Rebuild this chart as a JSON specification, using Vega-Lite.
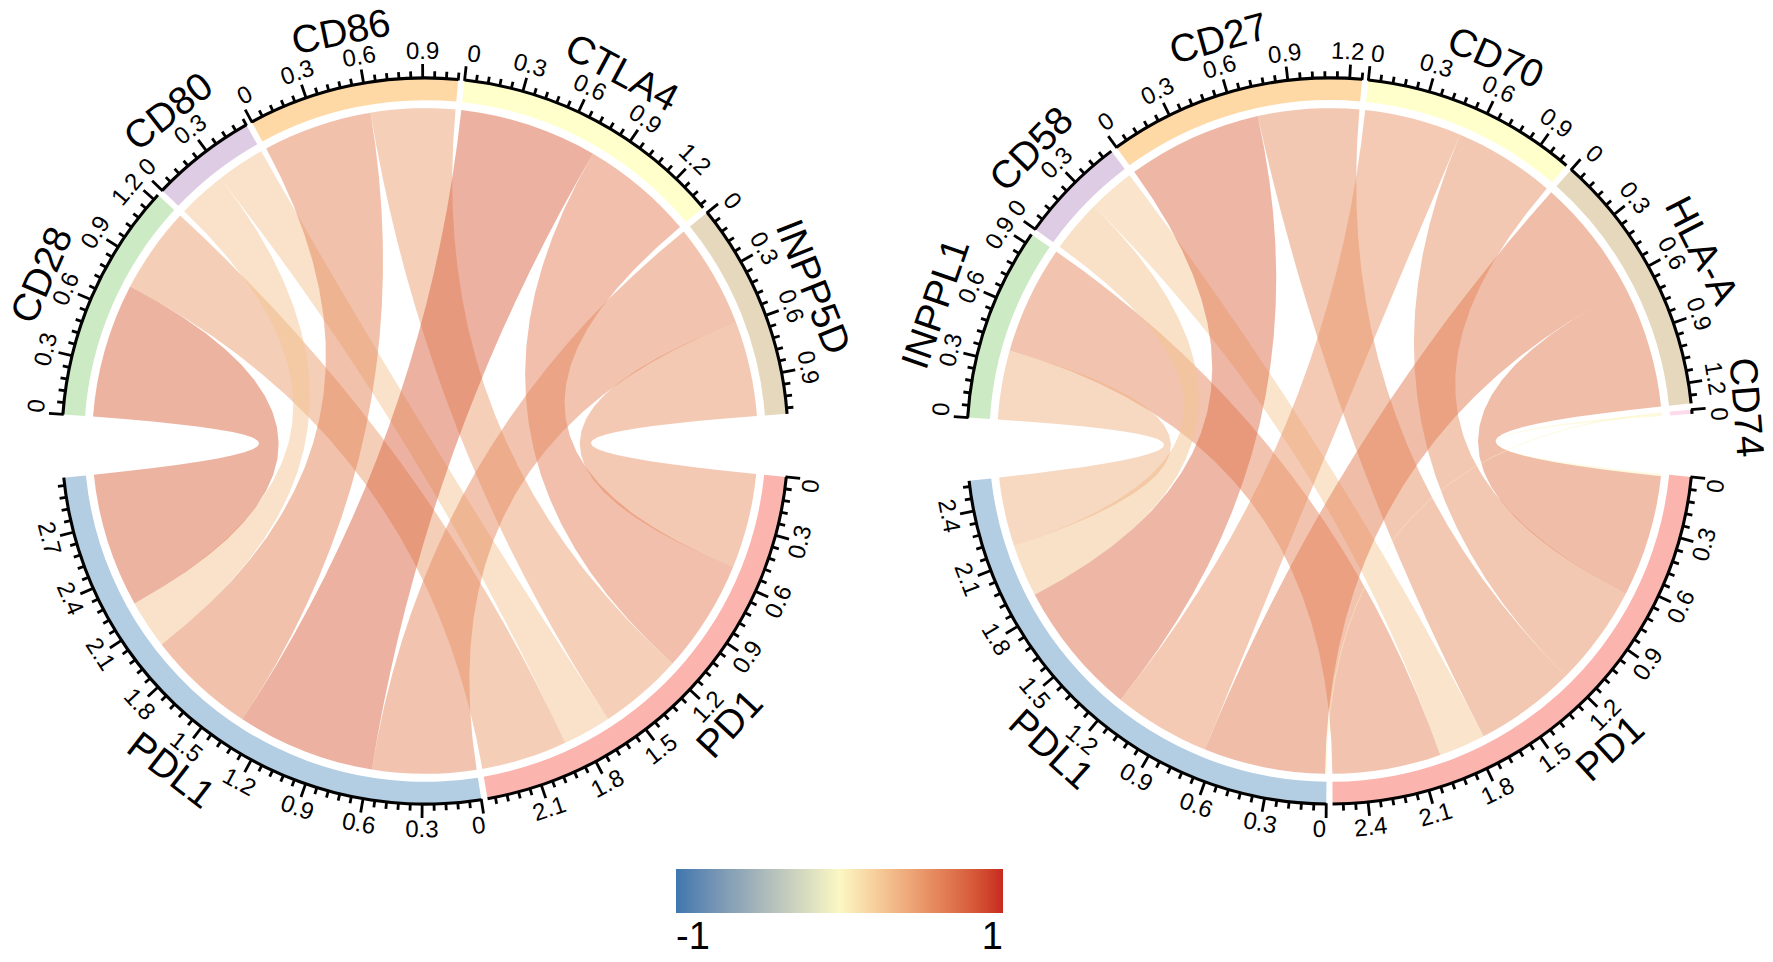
{
"$schema": "https://vega.github.io/schema/vega-lite/v6.json",
"padding": {"left": 0, "top": 0, "right": 18, "bottom": 0},
"background": "white",
"spacing": 55,
"bounds": "flush",
"config": {"view": {"stroke": null}, "font": "Liberation Sans"},
"datasets": {"links": [
{"c":"L","a":"PD1","ia":0,"b":"INPP5D","ib":6,"v":0.53},
{"c":"L","a":"PD1","ia":0,"b":"CTLA4","ib":5,"v":0.63},
{"c":"L","a":"PD1","ia":0,"b":"CD86","ib":4,"v":0.47},
{"c":"L","a":"PD1","ia":0,"b":"CD80","ib":3,"v":0.27},
{"c":"L","a":"PD1","ia":0,"b":"CD28","ib":2,"v":0.48},
{"c":"L","a":"PDL1","ia":1,"b":"INPP5D","ib":6,"v":0.58},
{"c":"L","a":"PDL1","ia":1,"b":"CTLA4","ib":5,"v":0.77},
{"c":"L","a":"PDL1","ia":1,"b":"CD86","ib":4,"v":0.61},
{"c":"L","a":"PDL1","ia":1,"b":"CD80","ib":3,"v":0.27},
{"c":"L","a":"PDL1","ia":1,"b":"CD28","ib":2,"v":0.75},
{"c":"R","a":"PD1","ia":0,"b":"CD74","ib":7,"v":0.012},
{"c":"R","a":"PD1","ia":0,"b":"HLA-A","ib":6,"v":0.65},
{"c":"R","a":"PD1","ia":0,"b":"CD70","ib":5,"v":0.54},
{"c":"R","a":"PD1","ia":0,"b":"CD27","ib":4,"v":0.54},
{"c":"R","a":"PD1","ia":0,"b":"CD58","ib":3,"v":0.25},
{"c":"R","a":"PD1","ia":0,"b":"INPPL1","ib":2,"v":0.58},
{"c":"R","a":"PDL1","ia":1,"b":"CD74","ib":7,"v":0.008},
{"c":"R","a":"PDL1","ia":1,"b":"HLA-A","ib":6,"v":0.65},
{"c":"R","a":"PDL1","ia":1,"b":"CD70","ib":5,"v":0.52},
{"c":"R","a":"PDL1","ia":1,"b":"CD27","ib":4,"v":0.72},
{"c":"R","a":"PDL1","ia":1,"b":"CD58","ib":3,"v":0.28},
{"c":"R","a":"PDL1","ia":1,"b":"INPPL1","ib":2,"v":0.37}
]},
"hconcat": [
{
"width": 850, "height": 882,
"layer": [
{
"data": {"name": "links"},
"transform": [
{"filter": "datum.c == 'L'"},
{"joinaggregate": [{"op":"sum","field":"v","as":"T"},{"op":"max","field":"ib","as":"maxb"}], "groupby": ["c"]},
{"joinaggregate": [{"op":"sum","field":"v","as":"lenA"}], "groupby": ["a"]},
{"joinaggregate": [{"op":"sum","field":"v","as":"lenB"}], "groupby": ["b"]},
{"window": [{"op":"sum","field":"v","as":"cumA"}], "groupby": ["c"], "sort": [{"field":"ia","order":"ascending"}], "frame": [null,0], "ignorePeers": false},
{"window": [{"op":"sum","field":"v","as":"cumB"}], "groupby": ["c"], "sort": [{"field":"ib","order":"ascending"}], "frame": [null,0], "ignorePeers": false},
{"window": [{"op":"sum","field":"v","as":"inA"}], "groupby": ["a"], "sort": [{"field":"ib","order":"descending"}], "frame": [null,0]},
{"window": [{"op":"sum","field":"v","as":"inB"}], "groupby": ["b"], "sort": [{"field":"ia","order":"descending"}], "frame": [null,0]},
{"calculate": "(341 - datum.maxb) / (2 * datum.T)", "as": "dpu"},
{"calculate": "95.7 + (datum.cumA - datum.lenA + datum.inA - datum.v) * datum.dpu + datum.ia", "as": "a1"},
{"calculate": "datum.a1 + datum.v * datum.dpu", "as": "a2"},
{"calculate": "95.7 + (datum.T + datum.cumB - datum.lenB + datum.inB - datum.v) * datum.dpu + 9 + datum.ib", "as": "b1"},
{"calculate": "datum.b1 + datum.v * datum.dpu", "as": "b2"},
{"calculate": "0", "as": "j"},
{"calculate": "0", "as": "z"},
{"impute": "z", "key": "j", "keyvals": [0,1,2,3,4,5,6,7,8,9,10,11,12,13,14,15,16,17,18,19,20,21,22,23,24,25,26,27,28,29,30,31,32,33,34,35,36,37,38,39,40,41,42,43,44,45,46,47,48,49,50,51,52,53,54,55], "groupby": ["c","a","b","v","a1","a2","b1","b2"], "value": 0},
{"calculate": "datum.j <= 8 ? 0.917 * sin((datum.a1 + (datum.a2 - datum.a1) * datum.j / 8) * PI / 180) : datum.j <= 27 ? 0.917 * (pow(1 - (datum.j - 8) / 20, 2) * sin(datum.a2 * PI / 180) + pow((datum.j - 8) / 20, 2) * sin(datum.b1 * PI / 180)) : datum.j <= 36 ? 0.917 * sin((datum.b1 + (datum.b2 - datum.b1) * (datum.j - 28) / 8) * PI / 180) : 0.917 * (pow(1 - (datum.j - 36) / 20, 2) * sin(datum.b2 * PI / 180) + pow((datum.j - 36) / 20, 2) * sin(datum.a1 * PI / 180))", "as": "x"},
{"calculate": "datum.j <= 8 ? 0.917 * cos((datum.a1 + (datum.a2 - datum.a1) * datum.j / 8) * PI / 180) : datum.j <= 27 ? 0.917 * (pow(1 - (datum.j - 8) / 20, 2) * cos(datum.a2 * PI / 180) + pow((datum.j - 8) / 20, 2) * cos(datum.b1 * PI / 180)) : datum.j <= 36 ? 0.917 * cos((datum.b1 + (datum.b2 - datum.b1) * (datum.j - 28) / 8) * PI / 180) : 0.917 * (pow(1 - (datum.j - 36) / 20, 2) * cos(datum.b2 * PI / 180) + pow((datum.j - 36) / 20, 2) * cos(datum.a1 * PI / 180))", "as": "y"}
],
"mark": {"type": "line", "filled": true, "fillOpacity": 0.5, "strokeWidth": 0, "interpolate": "linear"},
"encoding": {
"x": {"field": "x", "type": "quantitative", "scale": {"domain": [-1.1708, 1.1708], "nice": false, "zero": false}, "axis": null},
"y": {"field": "y", "type": "quantitative", "scale": {"domain": [-1.2149, 1.2149], "nice": false, "zero": false}, "axis": null},
"order": {"field": "j", "type": "quantitative"},
"detail": [{"field": "a", "type": "nominal"}, {"field": "b", "type": "nominal"}],
"color": {"field": "v", "type": "quantitative", "scale": {"domain": [-1,0,1], "range": ["#3F77AE","#FBF8C3","#C8291F"], "interpolate": "lab"},
  "legend": {"orient": "none", "legendX": 676, "legendY": 869, "direction": "horizontal", "gradientLength": 327, "gradientThickness": 44, "title": null, "values": [-1, 1], "labelFontSize": 38, "labelFont": "Liberation Sans", "labelColor": "black", "labelOffset": 6, "labelAlign": "center", "gradientStrokeWidth": 0, "labelExpr": "datum.value < 0 ? '-1' : '1'"}}
}
},
{
"data": {"name": "links"},
"transform": [
{"filter": "datum.c == 'L'"},
{"joinaggregate": [{"op":"sum","field":"v","as":"T"},{"op":"max","field":"ib","as":"maxb"}], "groupby": ["c"]},
{"joinaggregate": [{"op":"sum","field":"v","as":"lenA"}], "groupby": ["a"]},
{"joinaggregate": [{"op":"sum","field":"v","as":"lenB"}], "groupby": ["b"]},
{"window": [{"op":"sum","field":"v","as":"cumA"}], "groupby": ["c"], "sort": [{"field":"ia","order":"ascending"}], "frame": [null,0], "ignorePeers": false},
{"window": [{"op":"sum","field":"v","as":"cumB"}], "groupby": ["c"], "sort": [{"field":"ib","order":"ascending"}], "frame": [null,0], "ignorePeers": false},
{"window": [{"op":"sum","field":"v","as":"inA"}], "groupby": ["a"], "sort": [{"field":"ib","order":"descending"}], "frame": [null,0]},
{"window": [{"op":"sum","field":"v","as":"inB"}], "groupby": ["b"], "sort": [{"field":"ia","order":"descending"}], "frame": [null,0]},
{"calculate": "(341 - datum.maxb) / (2 * datum.T)", "as": "dpu"},
{"calculate": "95.7 + (datum.cumA - datum.lenA + datum.inA - datum.v) * datum.dpu + datum.ia", "as": "a1"},
{"calculate": "datum.a1 + datum.v * datum.dpu", "as": "a2"},
{"calculate": "95.7 + (datum.T + datum.cumB - datum.lenB + datum.inB - datum.v) * datum.dpu + 9 + datum.ib", "as": "b1"},
{"calculate": "datum.b1 + datum.v * datum.dpu", "as": "b2"},
{"fold": ["a","b"], "as": ["side","s"]},
{"calculate": "datum.side == 'a' ? datum.a1 : datum.b1", "as": "lo"},
{"calculate": "datum.side == 'a' ? datum.a2 : datum.b2", "as": "hi"},
{"aggregate": [{"op":"min","field":"lo","as":"st"},{"op":"max","field":"hi","as":"en"},{"op":"sum","field":"v","as":"len"}], "groupby": ["s"]}
],
"layer": [
{
"mark": {"type": "arc"},
"encoding": {
"theta": {"field": "st", "type": "quantitative", "stack": null, "scale": {"type": "linear", "domain": [0, 360], "range": [0, 6.283185307179586], "nice": false, "zero": false}},
"theta2": {"field": "en"},
"radius": {"datum": 0.939, "type": "quantitative", "scale": {"type": "linear", "domain": [0, 1.1708], "range": [0, 425], "nice": false, "zero": true}},
"radius2": {"datum": 1.0},
"fill": {"field": "s", "type": "nominal", "legend": null, "scale": {"domain": ["PD1","PDL1","CD28","CD80","CD86","CTLA4","INPP5D","INPPL1","CD58","CD27","CD70","HLA-A","CD74"], "range": ["#FBB4AE","#B3CDE3","#CCEBC5","#DECBE4","#FED9A6","#FFFFCC","#E5D8BD","#CCEBC5","#DECBE4","#FED9A6","#FFFFCC","#E5D8BD","#FDDAEC"]}}
}
},
{
"mark": {"type": "arc", "fill": "black"},
"encoding": {
"theta": {"field": "st", "type": "quantitative", "stack": null, "scale": {"type": "linear", "domain": [0, 360], "range": [0, 6.283185307179586], "nice": false, "zero": false}},
"theta2": {"field": "en"},
"radius": {"datum": 1.0045, "type": "quantitative", "scale": {"type": "linear", "domain": [0, 1.1708], "range": [0, 425], "nice": false, "zero": true}},
"radius2": {"datum": 0.996}
}
},
{
"transform": [
{"calculate": "0", "as": "k"},
{"calculate": "0", "as": "z"},
{"impute": "z", "key": "k", "keyvals": [0,1,2,3,4,5,6,7,8,9,10,11,12,13,14,15,16,17,18,19,20,21,22,23,24,25,26,27,28,29,30,31,32,33,34,35,36,37,38,39,40,41,42,43,44,45,46,47,48,49,50], "groupby": ["s","st","en","len"], "value": 0},
{"filter": "datum.k * 0.06 <= datum.len + 0.0001"},
{"calculate": "(datum.st + datum.k * 0.06 * (datum.en - datum.st) / datum.len) * PI / 180", "as": "ang"},
{"calculate": "datum.k % 5 == 0 ? 1.0386 : 1.019", "as": "r2"},
{"calculate": "0.998 * sin(datum.ang)", "as": "tx"},
{"calculate": "0.998 * cos(datum.ang)", "as": "ty"},
{"calculate": "datum.r2 * sin(datum.ang)", "as": "tx2"},
{"calculate": "datum.r2 * cos(datum.ang)", "as": "ty2"}
],
"mark": {"type": "rule", "color": "black", "strokeWidth": 2.8},
"encoding": {
"x": {"field": "tx", "type": "quantitative", "scale": {"domain": [-1.1708, 1.1708], "nice": false, "zero": false}, "axis": null},
"y": {"field": "ty", "type": "quantitative", "scale": {"domain": [-1.2149, 1.2149], "nice": false, "zero": false}, "axis": null},
"x2": {"field": "tx2"},
"y2": {"field": "ty2"}
}
},
{
"transform": [
{"calculate": "0", "as": "k"},
{"calculate": "0", "as": "z"},
{"impute": "z", "key": "k", "keyvals": [0,5,10,15,20,25,30,35,40,45,50], "groupby": ["s","st","en","len"], "value": 0},
{"filter": "datum.k * 0.06 <= datum.len + 0.0001"},
{"calculate": "datum.k / 5 * 3 / 10", "as": "lab"},
{"calculate": "(datum.lab == 0 ? 0.278 : 0.695) * 24 / (1.072 * 363) * 180 / PI", "as": "hw"},
{"calculate": "datum.st + datum.k * 0.06 * (datum.en - datum.st) / datum.len", "as": "tdeg"},
{"calculate": "max(datum.st + datum.hw, min(datum.tdeg, datum.en - datum.hw)) * PI / 180", "as": "ang"},
{"calculate": "1.072 * sin(datum.ang)", "as": "lx"},
{"calculate": "1.072 * cos(datum.ang)", "as": "ly"},
{"calculate": "((((cos(datum.ang) > 0 ? datum.ang * 180 / PI : datum.ang * 180 / PI - 180)) % 360) + 360) % 360", "as": "rot"}
],
"mark": {"type": "text", "fontSize": 24, "font": "Liberation Sans", "align": "center", "baseline": "middle", "color": "black"},
"encoding": {
"x": {"field": "lx", "type": "quantitative", "scale": {"domain": [-1.1708, 1.1708], "nice": false, "zero": false}, "axis": null},
"y": {"field": "ly", "type": "quantitative", "scale": {"domain": [-1.2149, 1.2149], "nice": false, "zero": false}, "axis": null},
"text": {"field": "lab", "type": "quantitative", "format": ".1~f"},
"angle": {"field": "rot", "type": "quantitative", "scale": null}
}
},
{
"transform": [
{"calculate": "(datum.st + datum.en) / 2 * PI / 180", "as": "ang"},
{"calculate": "1.148 * sin(datum.ang)", "as": "nx"},
{"calculate": "1.148 * cos(datum.ang)", "as": "ny"},
{"calculate": "((((cos(datum.ang) > 0 ? datum.ang * 180 / PI : datum.ang * 180 / PI - 180)) % 360) + 360) % 360", "as": "rot"}
],
"mark": {"type": "text", "fontSize": 39, "font": "Liberation Sans", "align": "center", "baseline": "middle", "color": "black"},
"encoding": {
"x": {"field": "nx", "type": "quantitative", "scale": {"domain": [-1.1708, 1.1708], "nice": false, "zero": false}, "axis": null},
"y": {"field": "ny", "type": "quantitative", "scale": {"domain": [-1.2149, 1.2149], "nice": false, "zero": false}, "axis": null},
"text": {"field": "s", "type": "nominal"},
"angle": {"field": "rot", "type": "quantitative", "scale": null}
}
}
]
}
]
},
{
"width": 850, "height": 882,
"layer": [
{
"data": {"name": "links"},
"transform": [
{"filter": "datum.c == 'R'"},
{"joinaggregate": [{"op":"sum","field":"v","as":"T"},{"op":"max","field":"ib","as":"maxb"}], "groupby": ["c"]},
{"joinaggregate": [{"op":"sum","field":"v","as":"lenA"}], "groupby": ["a"]},
{"joinaggregate": [{"op":"sum","field":"v","as":"lenB"}], "groupby": ["b"]},
{"window": [{"op":"sum","field":"v","as":"cumA"}], "groupby": ["c"], "sort": [{"field":"ia","order":"ascending"}], "frame": [null,0], "ignorePeers": false},
{"window": [{"op":"sum","field":"v","as":"cumB"}], "groupby": ["c"], "sort": [{"field":"ib","order":"ascending"}], "frame": [null,0], "ignorePeers": false},
{"window": [{"op":"sum","field":"v","as":"inA"}], "groupby": ["a"], "sort": [{"field":"ib","order":"descending"}], "frame": [null,0]},
{"window": [{"op":"sum","field":"v","as":"inB"}], "groupby": ["b"], "sort": [{"field":"ia","order":"descending"}], "frame": [null,0]},
{"calculate": "(341 - datum.maxb) / (2 * datum.T)", "as": "dpu"},
{"calculate": "95.7 + (datum.cumA - datum.lenA + datum.inA - datum.v) * datum.dpu + datum.ia", "as": "a1"},
{"calculate": "datum.a1 + datum.v * datum.dpu", "as": "a2"},
{"calculate": "95.7 + (datum.T + datum.cumB - datum.lenB + datum.inB - datum.v) * datum.dpu + 9 + datum.ib", "as": "b1"},
{"calculate": "datum.b1 + datum.v * datum.dpu", "as": "b2"},
{"calculate": "0", "as": "j"},
{"calculate": "0", "as": "z"},
{"impute": "z", "key": "j", "keyvals": [0,1,2,3,4,5,6,7,8,9,10,11,12,13,14,15,16,17,18,19,20,21,22,23,24,25,26,27,28,29,30,31,32,33,34,35,36,37,38,39,40,41,42,43,44,45,46,47,48,49,50,51,52,53,54,55], "groupby": ["c","a","b","v","a1","a2","b1","b2"], "value": 0},
{"calculate": "datum.j <= 8 ? 0.917 * sin((datum.a1 + (datum.a2 - datum.a1) * datum.j / 8) * PI / 180) : datum.j <= 27 ? 0.917 * (pow(1 - (datum.j - 8) / 20, 2) * sin(datum.a2 * PI / 180) + pow((datum.j - 8) / 20, 2) * sin(datum.b1 * PI / 180)) : datum.j <= 36 ? 0.917 * sin((datum.b1 + (datum.b2 - datum.b1) * (datum.j - 28) / 8) * PI / 180) : 0.917 * (pow(1 - (datum.j - 36) / 20, 2) * sin(datum.b2 * PI / 180) + pow((datum.j - 36) / 20, 2) * sin(datum.a1 * PI / 180))", "as": "x"},
{"calculate": "datum.j <= 8 ? 0.917 * cos((datum.a1 + (datum.a2 - datum.a1) * datum.j / 8) * PI / 180) : datum.j <= 27 ? 0.917 * (pow(1 - (datum.j - 8) / 20, 2) * cos(datum.a2 * PI / 180) + pow((datum.j - 8) / 20, 2) * cos(datum.b1 * PI / 180)) : datum.j <= 36 ? 0.917 * cos((datum.b1 + (datum.b2 - datum.b1) * (datum.j - 28) / 8) * PI / 180) : 0.917 * (pow(1 - (datum.j - 36) / 20, 2) * cos(datum.b2 * PI / 180) + pow((datum.j - 36) / 20, 2) * cos(datum.a1 * PI / 180))", "as": "y"}
],
"mark": {"type": "line", "filled": true, "fillOpacity": 0.5, "strokeWidth": 0, "interpolate": "linear"},
"encoding": {
"x": {"field": "x", "type": "quantitative", "scale": {"domain": [-1.1708, 1.1708], "nice": false, "zero": false}, "axis": null},
"y": {"field": "y", "type": "quantitative", "scale": {"domain": [-1.2149, 1.2149], "nice": false, "zero": false}, "axis": null},
"order": {"field": "j", "type": "quantitative"},
"detail": [{"field": "a", "type": "nominal"}, {"field": "b", "type": "nominal"}],
"color": {"field": "v", "type": "quantitative", "scale": {"domain": [-1,0,1], "range": ["#3F77AE","#FBF8C3","#C8291F"], "interpolate": "lab"},
  "legend": {"orient": "none", "legendX": 676, "legendY": 869, "direction": "horizontal", "gradientLength": 327, "gradientThickness": 44, "title": null, "values": [-1, 1], "labelFontSize": 38, "labelFont": "Liberation Sans", "labelColor": "black", "labelOffset": 6, "labelAlign": "center", "gradientStrokeWidth": 0, "labelExpr": "datum.value < 0 ? '-1' : '1'"}}
}
},
{
"data": {"name": "links"},
"transform": [
{"filter": "datum.c == 'R'"},
{"joinaggregate": [{"op":"sum","field":"v","as":"T"},{"op":"max","field":"ib","as":"maxb"}], "groupby": ["c"]},
{"joinaggregate": [{"op":"sum","field":"v","as":"lenA"}], "groupby": ["a"]},
{"joinaggregate": [{"op":"sum","field":"v","as":"lenB"}], "groupby": ["b"]},
{"window": [{"op":"sum","field":"v","as":"cumA"}], "groupby": ["c"], "sort": [{"field":"ia","order":"ascending"}], "frame": [null,0], "ignorePeers": false},
{"window": [{"op":"sum","field":"v","as":"cumB"}], "groupby": ["c"], "sort": [{"field":"ib","order":"ascending"}], "frame": [null,0], "ignorePeers": false},
{"window": [{"op":"sum","field":"v","as":"inA"}], "groupby": ["a"], "sort": [{"field":"ib","order":"descending"}], "frame": [null,0]},
{"window": [{"op":"sum","field":"v","as":"inB"}], "groupby": ["b"], "sort": [{"field":"ia","order":"descending"}], "frame": [null,0]},
{"calculate": "(341 - datum.maxb) / (2 * datum.T)", "as": "dpu"},
{"calculate": "95.7 + (datum.cumA - datum.lenA + datum.inA - datum.v) * datum.dpu + datum.ia", "as": "a1"},
{"calculate": "datum.a1 + datum.v * datum.dpu", "as": "a2"},
{"calculate": "95.7 + (datum.T + datum.cumB - datum.lenB + datum.inB - datum.v) * datum.dpu + 9 + datum.ib", "as": "b1"},
{"calculate": "datum.b1 + datum.v * datum.dpu", "as": "b2"},
{"fold": ["a","b"], "as": ["side","s"]},
{"calculate": "datum.side == 'a' ? datum.a1 : datum.b1", "as": "lo"},
{"calculate": "datum.side == 'a' ? datum.a2 : datum.b2", "as": "hi"},
{"aggregate": [{"op":"min","field":"lo","as":"st"},{"op":"max","field":"hi","as":"en"},{"op":"sum","field":"v","as":"len"}], "groupby": ["s"]}
],
"layer": [
{
"mark": {"type": "arc"},
"encoding": {
"theta": {"field": "st", "type": "quantitative", "stack": null, "scale": {"type": "linear", "domain": [0, 360], "range": [0, 6.283185307179586], "nice": false, "zero": false}},
"theta2": {"field": "en"},
"radius": {"datum": 0.939, "type": "quantitative", "scale": {"type": "linear", "domain": [0, 1.1708], "range": [0, 425], "nice": false, "zero": true}},
"radius2": {"datum": 1.0},
"fill": {"field": "s", "type": "nominal", "legend": null, "scale": {"domain": ["PD1","PDL1","CD28","CD80","CD86","CTLA4","INPP5D","INPPL1","CD58","CD27","CD70","HLA-A","CD74"], "range": ["#FBB4AE","#B3CDE3","#CCEBC5","#DECBE4","#FED9A6","#FFFFCC","#E5D8BD","#CCEBC5","#DECBE4","#FED9A6","#FFFFCC","#E5D8BD","#FDDAEC"]}}
}
},
{
"mark": {"type": "arc", "fill": "black"},
"encoding": {
"theta": {"field": "st", "type": "quantitative", "stack": null, "scale": {"type": "linear", "domain": [0, 360], "range": [0, 6.283185307179586], "nice": false, "zero": false}},
"theta2": {"field": "en"},
"radius": {"datum": 1.0045, "type": "quantitative", "scale": {"type": "linear", "domain": [0, 1.1708], "range": [0, 425], "nice": false, "zero": true}},
"radius2": {"datum": 0.996}
}
},
{
"transform": [
{"calculate": "0", "as": "k"},
{"calculate": "0", "as": "z"},
{"impute": "z", "key": "k", "keyvals": [0,1,2,3,4,5,6,7,8,9,10,11,12,13,14,15,16,17,18,19,20,21,22,23,24,25,26,27,28,29,30,31,32,33,34,35,36,37,38,39,40,41,42,43,44,45,46,47,48,49,50], "groupby": ["s","st","en","len"], "value": 0},
{"filter": "datum.k * 0.06 <= datum.len + 0.0001"},
{"calculate": "(datum.st + datum.k * 0.06 * (datum.en - datum.st) / datum.len) * PI / 180", "as": "ang"},
{"calculate": "datum.k % 5 == 0 ? 1.0386 : 1.019", "as": "r2"},
{"calculate": "0.998 * sin(datum.ang)", "as": "tx"},
{"calculate": "0.998 * cos(datum.ang)", "as": "ty"},
{"calculate": "datum.r2 * sin(datum.ang)", "as": "tx2"},
{"calculate": "datum.r2 * cos(datum.ang)", "as": "ty2"}
],
"mark": {"type": "rule", "color": "black", "strokeWidth": 2.8},
"encoding": {
"x": {"field": "tx", "type": "quantitative", "scale": {"domain": [-1.1708, 1.1708], "nice": false, "zero": false}, "axis": null},
"y": {"field": "ty", "type": "quantitative", "scale": {"domain": [-1.2149, 1.2149], "nice": false, "zero": false}, "axis": null},
"x2": {"field": "tx2"},
"y2": {"field": "ty2"}
}
},
{
"transform": [
{"calculate": "0", "as": "k"},
{"calculate": "0", "as": "z"},
{"impute": "z", "key": "k", "keyvals": [0,5,10,15,20,25,30,35,40,45,50], "groupby": ["s","st","en","len"], "value": 0},
{"filter": "datum.k * 0.06 <= datum.len + 0.0001"},
{"calculate": "datum.k / 5 * 3 / 10", "as": "lab"},
{"calculate": "(datum.lab == 0 ? 0.278 : 0.695) * 24 / (1.072 * 363) * 180 / PI", "as": "hw"},
{"calculate": "datum.st + datum.k * 0.06 * (datum.en - datum.st) / datum.len", "as": "tdeg"},
{"calculate": "max(datum.st + datum.hw, min(datum.tdeg, datum.en - datum.hw)) * PI / 180", "as": "ang"},
{"calculate": "1.072 * sin(datum.ang)", "as": "lx"},
{"calculate": "1.072 * cos(datum.ang)", "as": "ly"},
{"calculate": "((((cos(datum.ang) > 0 ? datum.ang * 180 / PI : datum.ang * 180 / PI - 180)) % 360) + 360) % 360", "as": "rot"}
],
"mark": {"type": "text", "fontSize": 24, "font": "Liberation Sans", "align": "center", "baseline": "middle", "color": "black"},
"encoding": {
"x": {"field": "lx", "type": "quantitative", "scale": {"domain": [-1.1708, 1.1708], "nice": false, "zero": false}, "axis": null},
"y": {"field": "ly", "type": "quantitative", "scale": {"domain": [-1.2149, 1.2149], "nice": false, "zero": false}, "axis": null},
"text": {"field": "lab", "type": "quantitative", "format": ".1~f"},
"angle": {"field": "rot", "type": "quantitative", "scale": null}
}
},
{
"transform": [
{"calculate": "(datum.st + datum.en) / 2 * PI / 180", "as": "ang"},
{"calculate": "1.148 * sin(datum.ang)", "as": "nx"},
{"calculate": "1.148 * cos(datum.ang)", "as": "ny"},
{"calculate": "((((cos(datum.ang) > 0 ? datum.ang * 180 / PI : datum.ang * 180 / PI - 180)) % 360) + 360) % 360", "as": "rot"}
],
"mark": {"type": "text", "fontSize": 39, "font": "Liberation Sans", "align": "center", "baseline": "middle", "color": "black"},
"encoding": {
"x": {"field": "nx", "type": "quantitative", "scale": {"domain": [-1.1708, 1.1708], "nice": false, "zero": false}, "axis": null},
"y": {"field": "ny", "type": "quantitative", "scale": {"domain": [-1.2149, 1.2149], "nice": false, "zero": false}, "axis": null},
"text": {"field": "s", "type": "nominal"},
"angle": {"field": "rot", "type": "quantitative", "scale": null}
}
}
]
}
]
}
]
}
